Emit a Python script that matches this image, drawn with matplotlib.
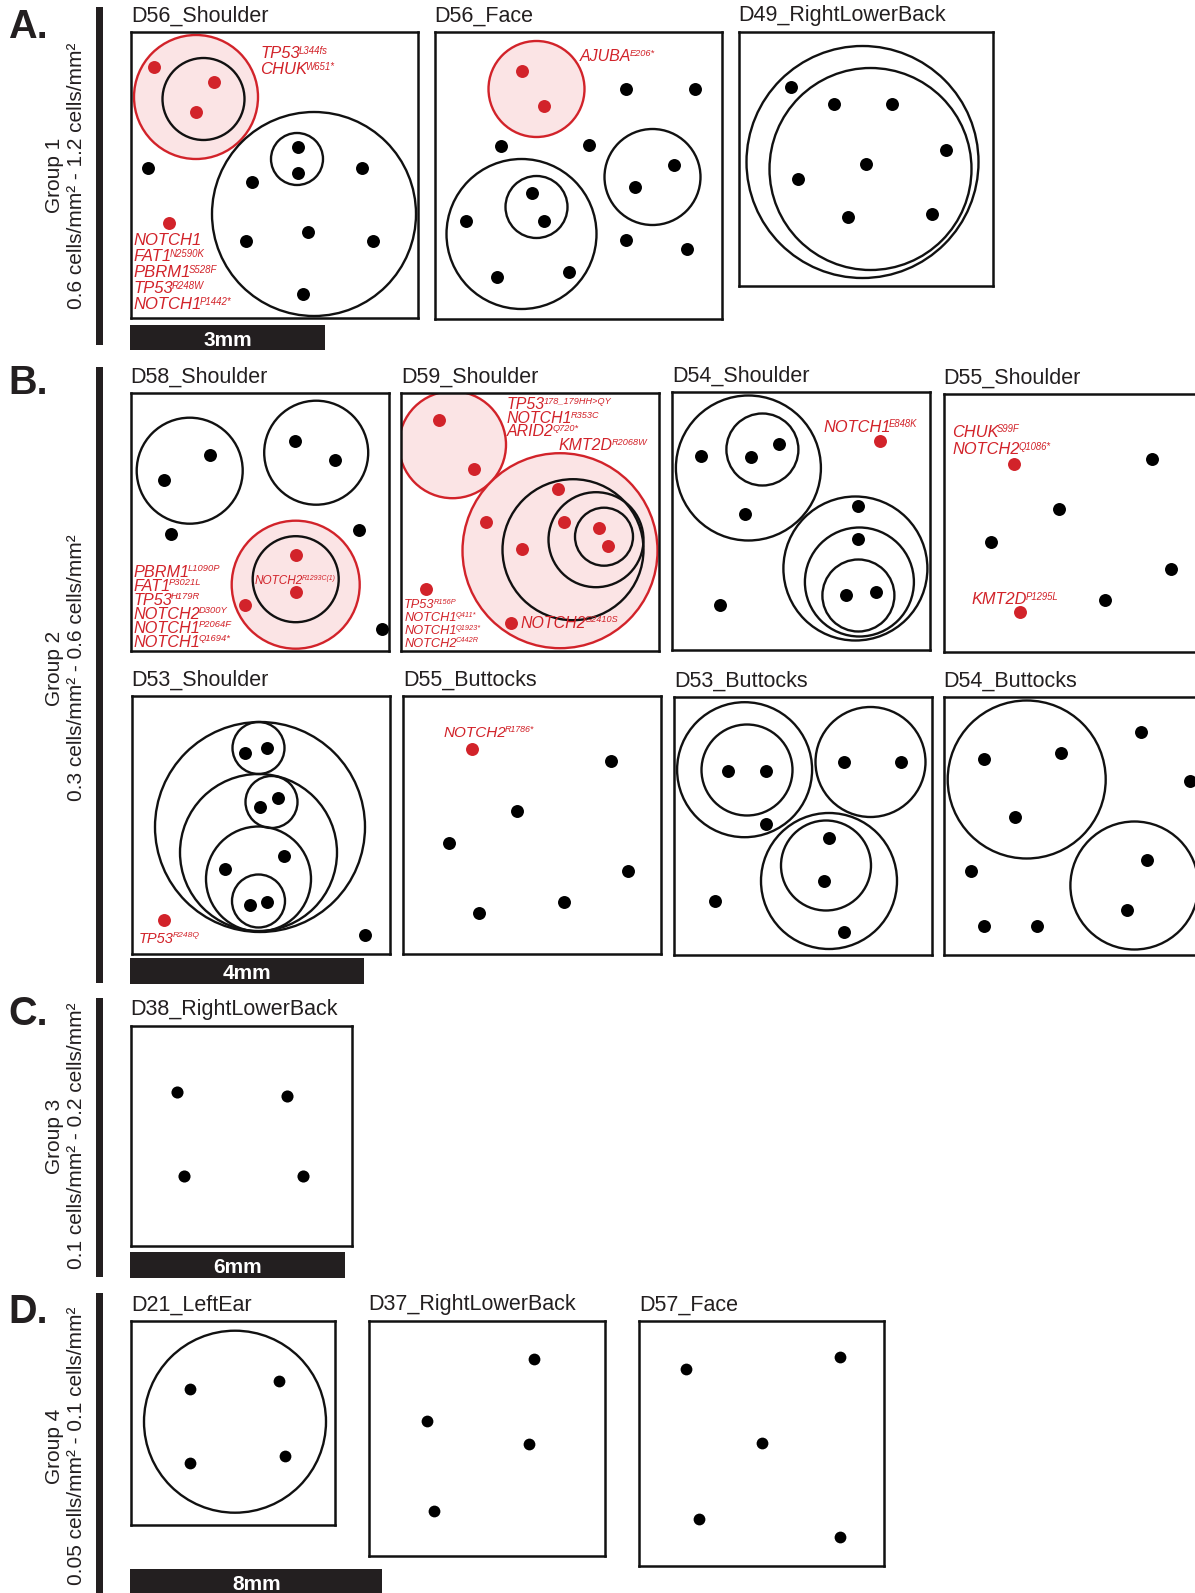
import matplotlib.pyplot as plt
from matplotlib.patches import Circle, Rectangle

plt.rcParams['font.family'] = ['Liberation Sans', 'DejaVu Sans']

W, H = 1195, 1593
RED = '#d2232a'
PINK = '#fbe4e5'
INK = '#231f20'
LINE = '#111111'

# group headers
group_letters = ['A.', 'B.', 'C.', 'D.']
group_names = ['Group 1', 'Group 2', 'Group 3', 'Group 4']
group_ranges = ['0.6 cells/mm² - 1.2 cells/mm²', '0.3 cells/mm² - 0.6 cells/mm²',
                '0.1 cells/mm² - 0.2 cells/mm²', '0.05 cells/mm² - 0.1 cells/mm²']
scale_mm = [3, 4, 6, 8]

# biopsy maps, coordinates in each biopsy's own frame (y grows downward)
# clones: (x, y, radius)   labels: (x, y, gene, variant)
d56_shoulder_clones = [(72.5, 67, 41), (183, 182, 102), (166, 127, 26)]
d56_shoulder_mut_clones = [(65, 65, 62)]
d56_shoulder_cells = [(17, 136), (167, 115), (167, 141), (121, 150), (231, 136),
                      (115, 209), (177, 200), (242, 209), (172, 262)]
d56_shoulder_mut_cells = [(23, 35), (83, 50), (65, 80), (38, 191)]
d56_shoulder_labels = [(129, 26, 'TP53', 'L344fs'), (129, 42, 'CHUK', 'W651*'),
                       (2.3, 213, 'NOTCH1', ''), (2.3, 229, 'FAT1', 'N2590K'),
                       (2.3, 245, 'PBRM1', 'S528F'), (2.3, 261, 'TP53', 'R248W'),
                       (2.3, 277, 'NOTCH1', 'P1442*')]

d56_face_clones = [(87, 202, 75), (102, 175, 31), (218, 145, 48)]
d56_face_mut_clones = [(102, 57, 48)]
d56_face_cells = [(191, 57), (260, 57), (66, 114), (154, 113), (97, 161), (109, 189),
                  (31, 189), (62, 245), (134, 240), (239, 133), (200, 155), (191, 208),
                  (252, 217)]
d56_face_mut_cells = [(87, 39), (109, 74)]
d56_face_labels = [(145.5, 29.3, 'AJUBA', 'E206*')]

d49_back_clones = [(124, 130, 116), (132, 137, 101)]
d49_back_cells = [(52, 55), (95, 72), (153, 72), (208, 118), (127.5, 132), (59, 147),
                  (109, 185), (194, 182)]

d58_shoulder_clones = [(59, 78, 53), (185.5, 60, 52), (165, 186.5, 43)]
d58_shoulder_mut_clones = [(165, 192, 64)]
d58_shoulder_cells = [(79, 62), (33, 87), (164, 48), (204, 67), (40, 141), (228, 137),
                      (251, 236)]
d58_shoulder_mut_cells = [(165, 162), (165, 199), (114, 212)]
d58_shoulder_labels = [(2.7, 184, 'PBRM1', 'L1090P'), (2.7, 198, 'FAT1', 'P3021L'),
                       (2.7, 212, 'TP53', 'H179R'), (2.7, 226, 'NOTCH2', 'D300Y'),
                       (2.7, 240, 'NOTCH1', 'P2064F'), (2.7, 254, 'NOTCH1', 'Q1694*')]
d58_shoulder_small_labels = [(124.3, 191.3, 'NOTCH2', 'R1293C(1)')]

d59_shoulder_clones = [(172, 157, 70.5), (195, 147, 47.5), (203, 144, 29)]
d59_shoulder_mut_clones = [(51.5, 52, 53.5), (159, 158, 97.5)]
d59_shoulder_mut_cells = [(38, 27), (73, 76), (157, 96), (85, 129), (163, 129),
                          (121, 156), (198, 135), (207, 153), (110, 230), (25, 196)]
d59_shoulder_labels = [(105.7, 16.7, 'TP53', '178_179HH>QY'), (105.7, 30.7, 'NOTCH1', 'R353C'),
                       (105.7, 43.3, 'ARID2', 'Q720*'), (158, 57.3, 'KMT2D', 'R2068W'),
                       (119.7, 235, 'NOTCH2', 'G2410S')]
d59_shoulder_small_labels = [(3.3, 215.7, 'TP53', 'R156P'), (3.3, 228.5, 'NOTCH1', 'Q411*'),
                             (3.3, 241.3, 'NOTCH1', 'Q1923*'), (3.3, 254, 'NOTCH2', 'C442R')]

d54_shoulder_clones = [(76, 75.5, 72.5), (90, 57, 36), (183, 176, 72), (187, 189.5, 54.5),
                       (186, 203, 36)]
d54_shoulder_cells = [(29, 64), (79, 65), (107, 52), (72.6, 122), (186, 114), (186, 147),
                      (174, 203), (204, 200), (48, 213)]
d54_shoulder_mut_cells = [(208, 49)]
d54_shoulder_labels = [(150.7, 39.3, 'NOTCH1', 'E848K')]

d55_shoulder_cells = [(207.8, 65), (115, 115), (47, 148), (227, 175), (161.5, 206)]
d55_shoulder_mut_cells = [(70, 70), (76.7, 218)]
d55_shoulder_labels = [(8.4, 42.7, 'CHUK', 'S99F'), (8.4, 60.3, 'NOTCH2', 'Q1086*'),
                       (27.7, 210.3, 'KMT2D', 'P1295L')]

d53_shoulder_clones = [(128.5, 131, 105), (127, 156.5, 78.5), (127, 183, 52.5),
                       (127, 205, 26.5), (127, 52, 26), (140, 106, 26)]
d53_shoulder_cells = [(113.5, 57), (135, 52), (128.5, 110.7), (146.5, 102), (93.5, 173),
                      (152, 160), (118, 209), (135, 205.7), (233, 239)]
d53_shoulder_mut_cells = [(32, 224)]
d53_shoulder_labels = [(7.6, 247.3, 'TP53', 'R248Q')]

d55_buttocks_cells = [(208, 65), (114.5, 115), (46.5, 147), (225, 175), (161.5, 205.7),
                      (76.5, 217)]
d55_buttocks_mut_cells = [(69, 53)]
d55_buttocks_labels = [(40.3, 40.7, 'NOTCH2', 'R1786*')]

d53_buttocks_clones = [(70.6, 72.7, 67.5), (73, 73, 45.5), (196.5, 65, 55), (155, 184, 68),
                       (152, 168.5, 45)]
d53_buttocks_cells = [(54, 74.3), (92, 74.3), (92, 127), (170, 65), (227, 65), (155.4, 141),
                      (150, 184), (170, 235), (40.5, 204)]

d54_buttocks_clones = [(83, 82.5, 79), (190.7, 188.5, 64)]
d54_buttocks_cells = [(40, 62), (117.6, 56), (71.6, 120), (27, 174), (40, 229), (93.6, 229),
                      (197, 35), (246, 84), (203.7, 162.7), (183, 212.7)]

d38_back_cells = [(46, 66), (156.7, 70), (53.7, 150), (172.7, 150)]

d21_ear_clones = [(104, 101, 91)]
d21_ear_cells = [(58.5, 68.7), (147.5, 60), (58.5, 142.7), (154.4, 135)]

d37_back_cells = [(165, 38.7), (58, 100), (160.7, 123), (65, 190)]

d57_face_cells = [(47, 48), (201, 36), (123, 122.7), (59.7, 198), (201, 216.7)]


fig = plt.figure(figsize=(W / 100, H / 100), dpi=100)
fig.patch.set_facecolor('white')

base = fig.add_axes([0, 0, 1, 1])
base.set_xlim(0, W)
base.set_ylim(H, 0)
base.axis('off')


def mutation(ax, x, y, gene, variant, size):
    t = ax.text(x, y, gene, color=RED, style='italic', fontsize=size,
                ha='left', va='baseline', zorder=5)
    if variant:
        # superscript variant tucked against the gene name
        ax.annotate(variant, xy=(1, 1), xycoords=t, xytext=(-1.1, 0.3),
                    textcoords='offset points', ha='left', va='top',
                    color=RED, style='italic', fontsize=size * 0.58, zorder=5)


def draw_map(x0, y0, w, h, title, clones=(), mut_clones=(), cells=(), mut_cells=(),
             labels=(), small_labels=(), label_size=11.8, small_size=9.2, dot=87):
    ax = fig.add_axes([x0 / W, 1 - (y0 + h) / H, w / W, h / H])
    ax.set_xlim(0, w)
    ax.set_ylim(h, 0)
    ax.set_xticks([])
    ax.set_yticks([])
    for sp in ax.spines.values():
        sp.set_linewidth(1.8)
        sp.set_color(LINE)
    for cx, cy, r in mut_clones:
        ax.add_patch(Circle((cx, cy), r, fc=PINK, ec=RED, lw=1.7, zorder=1))
    for cx, cy, r in clones:
        ax.add_patch(Circle((cx, cy), r, fill=False, ec=LINE, lw=1.7, zorder=2))
    if cells:
        xs, ys = zip(*cells)
        ax.scatter(xs, ys, s=dot, c='black', linewidths=0, zorder=3)
    if mut_cells:
        xs, ys = zip(*mut_cells)
        ax.scatter(xs, ys, s=dot, c=RED, linewidths=0, zorder=3)
    for x, y, gene, variant in labels:
        mutation(ax, x, y, gene, variant, label_size)
    for x, y, gene, variant in small_labels:
        mutation(ax, x, y, gene, variant, small_size)
    ax.text(0, -10.5, title, fontsize=15.5, color=INK, ha='left', va='baseline',
            clip_on=False)
    return ax


# group 1
draw_map(131, 32, 287, 286, 'D56_Shoulder', d56_shoulder_clones, d56_shoulder_mut_clones,
         d56_shoulder_cells, d56_shoulder_mut_cells, d56_shoulder_labels, label_size=12)
draw_map(434.5, 32, 287, 287, 'D56_Face', d56_face_clones, d56_face_mut_clones,
         d56_face_cells, d56_face_mut_cells, d56_face_labels, label_size=11.5)
draw_map(738.5, 32, 255, 254, 'D49_RightLowerBack', d49_back_clones, cells=d49_back_cells)

# group 2
draw_map(130.7, 392.7, 258, 258, 'D58_Shoulder', d58_shoulder_clones, d58_shoulder_mut_clones,
         d58_shoulder_cells, d58_shoulder_mut_cells, d58_shoulder_labels,
         d58_shoulder_small_labels, label_size=11.7, small_size=8.5)
draw_map(401, 392.7, 258, 258, 'D59_Shoulder', d59_shoulder_clones, d59_shoulder_mut_clones,
         mut_cells=d59_shoulder_mut_cells, labels=d59_shoulder_labels,
         small_labels=d59_shoulder_small_labels, label_size=11.4, small_size=9.2)
draw_map(672.4, 392.5, 258, 258, 'D54_Shoulder', d54_shoulder_clones, cells=d54_shoulder_cells,
         mut_cells=d54_shoulder_mut_cells, labels=d54_shoulder_labels)
draw_map(943.7, 394, 258, 258, 'D55_Shoulder', cells=d55_shoulder_cells,
         mut_cells=d55_shoulder_mut_cells, labels=d55_shoulder_labels)
draw_map(131.5, 696, 258, 258, 'D53_Shoulder', d53_shoulder_clones, cells=d53_shoulder_cells,
         mut_cells=d53_shoulder_mut_cells, labels=d53_shoulder_labels, label_size=10.5)
draw_map(402.9, 696, 258, 258, 'D55_Buttocks', cells=d55_buttocks_cells,
         mut_cells=d55_buttocks_mut_cells, labels=d55_buttocks_labels, label_size=11)
draw_map(674, 697, 258, 258, 'D53_Buttocks', d53_buttocks_clones, cells=d53_buttocks_cells)
draw_map(943.7, 697, 258, 258, 'D54_Buttocks', d54_buttocks_clones, cells=d54_buttocks_cells)

# group 3
draw_map(130.7, 1025.7, 221, 220, 'D38_RightLowerBack', cells=d38_back_cells, dot=76)

# group 4
draw_map(131, 1320.7, 204, 204, 'D21_LeftEar', d21_ear_clones, cells=d21_ear_cells, dot=72)
draw_map(368.5, 1320.7, 236, 235, 'D37_RightLowerBack', cells=d37_back_cells, dot=72)
draw_map(639, 1320.7, 245, 245, 'D57_Face', cells=d57_face_cells, dot=72)

# group brackets, letters, range labels and scale bars
bar_spans = [(7, 345), (367, 983), (998, 1277), (1293, 1600)]
letter_baselines = [38.3, 394, 1025, 1323]
label_centres = [175.5, 668, 1136, 1446]
scale_boxes = [(130, 325, 195, 25), (130, 958, 234, 26), (130, 1252, 215, 26),
               (130.5, 1569, 252, 30)]

for i in range(4):
    top, bottom = bar_spans[i]
    base.add_patch(Rectangle((96, top), 7.5, bottom - top, fc=INK, ec='none'))
    base.text(8, letter_baselines[i], group_letters[i], fontsize=28.5, fontweight='bold',
              color=INK, ha='left', va='baseline')
    base.text(66, label_centres[i], group_names[i] + '\n' + group_ranges[i], rotation=90,
              fontsize=15, color=INK, ha='center', va='center', multialignment='center',
              linespacing=1.2)
    x, y, w, h = scale_boxes[i]
    base.add_patch(Rectangle((x, y), w, h, fc=INK, ec='none'))
    base.text(x + w / 2, min(y + h / 2, y + 12.5) + 8.5, f'{scale_mm[i]}mm', color='white',
              fontsize=15, fontweight='bold', ha='center', va='baseline')

fig.savefig('out.png', dpi=100, facecolor='white')
